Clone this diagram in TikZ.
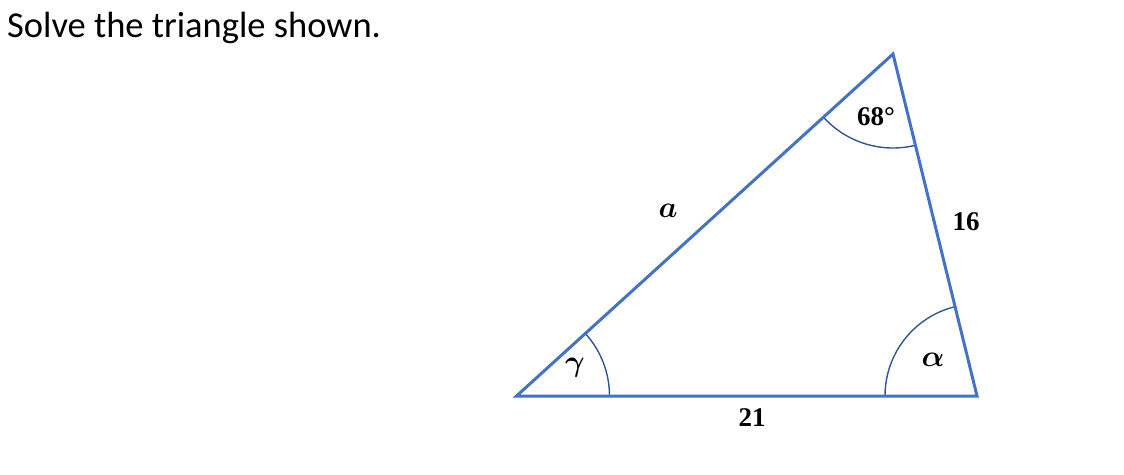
\RequirePackage{fix-cm}
\documentclass[tikz,border=0pt]{standalone}
\usepackage{fontspec}
\setmainfont{Liberation Serif}
\newfontfamily\titlefont{Carlito}
\definecolor{triblue}{HTML}{4472C4}
\definecolor{arcblue}{HTML}{2F5597}
\begin{document}
\begin{tikzpicture}[x=1pt,y=-1pt,
  side/.style={draw=triblue,line width=3pt,line join=miter},
  anglearc/.style={draw=arcblue,line width=1.4pt},
  lbl/.style={font=\fontsize{27}{30}\selectfont\bfseries,inner sep=0pt},
  mlbl/.style={font=\fontsize{30}{34}\selectfont\boldmath,inner sep=0pt}]
\useasboundingbox (0,0) rectangle (1124,474);
\node[anchor=base west,inner sep=0pt,font=\titlefont\fontsize{36.5}{40}\selectfont] (title) at (7,37) {Solve the triangle shown.};
\coordinate (A) at (516.5,396);
\coordinate (B) at (977,396);
\coordinate (C) at (893,54);
\draw[anglearc] ([shift={(0:93)}]A) arc[start angle=0,end angle=-42.25,radius=93];
\draw[anglearc] ([shift={(180:92)}]B) arc[start angle=180,end angle=256.2,radius=92];
\draw[anglearc] ([shift={(76.2:94)}]C) arc[start angle=76.2,end angle=137.75,radius=94];
\draw[side] (A) -- (B) -- (C) -- cycle;
\node[lbl] (l68) at (876,117) {68°};
\node[lbl] (l16) at (966,222) {16};
\node[lbl] (l21) at (752,418) {21};
\node[mlbl] (la) at (668,211) {$a$};
\node[mlbl] (lg) at (575,368) {$\gamma$};
\node[mlbl] (lal) at (933,360) {$\alpha$};
\end{tikzpicture}
\end{document}
